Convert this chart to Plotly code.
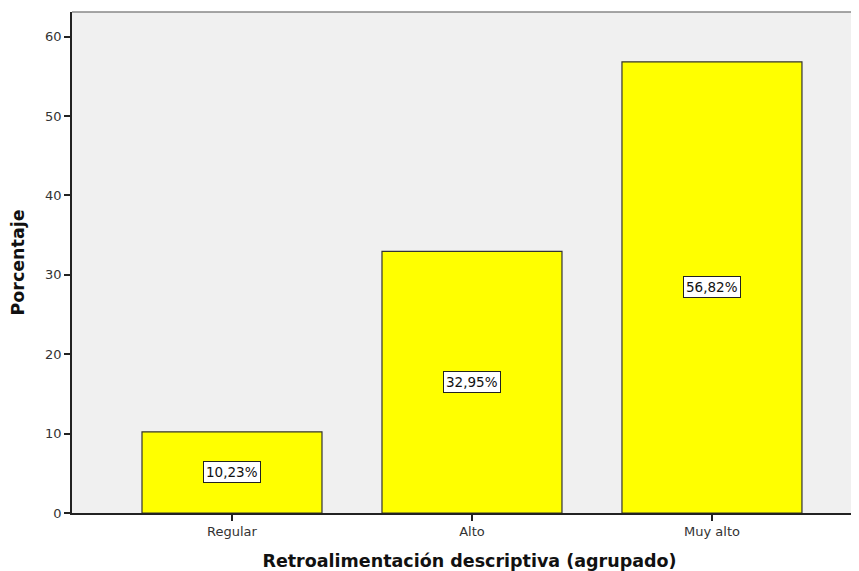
import plotly.graph_objects as go

categories = ["Regular", "Alto", "Muy alto"]
values = [10.23, 32.95, 56.82]
labels = ["10,23%", "32,95%", "56,82%"]
y_ticks = [0, 10, 20, 30, 40, 50, 60]

FONT = "DejaVu Sans, Verdana, sans-serif"

fig = go.Figure()
fig.add_trace(go.Bar(
    x=categories, y=values, width=0.75,
    marker=dict(color="#FFFF00", line=dict(color="#333333", width=1.2)),
    hoverinfo="skip",
))

for c, v, t in zip(categories, values, labels):
    fig.add_annotation(
        x=c, y=v / 2, xref="x", yref="y", text=t, showarrow=False,
        font=dict(family=FONT, size=13.5, color="#111111"),
        bgcolor="white", bordercolor="#222222", borderwidth=1, borderpad=2,
    )

fig.update_layout(
    width=859, height=571,
    margin=dict(l=64, r=0, t=4, b=66, autoexpand=False),
    paper_bgcolor="white",
    plot_bgcolor="#F0F0F0",
    showlegend=False,
    font=dict(family=FONT, color="#333333"),
    xaxis=dict(
        range=[-0.6667, 2.646],
        showgrid=False, zeroline=False,
        showline=True, linecolor="#222222", linewidth=1.5, mirror=False,
        ticks="outside", ticklen=6, tickwidth=1.5, tickcolor="#222222",
        tickfont=dict(size=13, color="#333333"),
        title=dict(text="<b>Retroalimentación descriptiva (agrupado)</b>",
                   font=dict(size=17.5, color="#111111"), standoff=16),
    ),
    yaxis=dict(
        range=[0, 63.1],
        tickvals=y_ticks,
        showgrid=False, zeroline=False,
        showline=True, linecolor="#222222", linewidth=1.5,
        ticks="outside", ticklen=6, tickwidth=2, tickcolor="#222222",
        tickfont=dict(size=13, color="#333333"),
        title=dict(text="<b>Porcentaje</b>", font=dict(size=17.5, color="#111111"), standoff=18),
    ),
)

# top border line of the plot frame
fig.add_shape(type="line", xref="paper", yref="paper", x0=0, x1=1, y0=1, y1=1,
              line=dict(color="#888888", width=1.5))

fig.write_html("out.html")
